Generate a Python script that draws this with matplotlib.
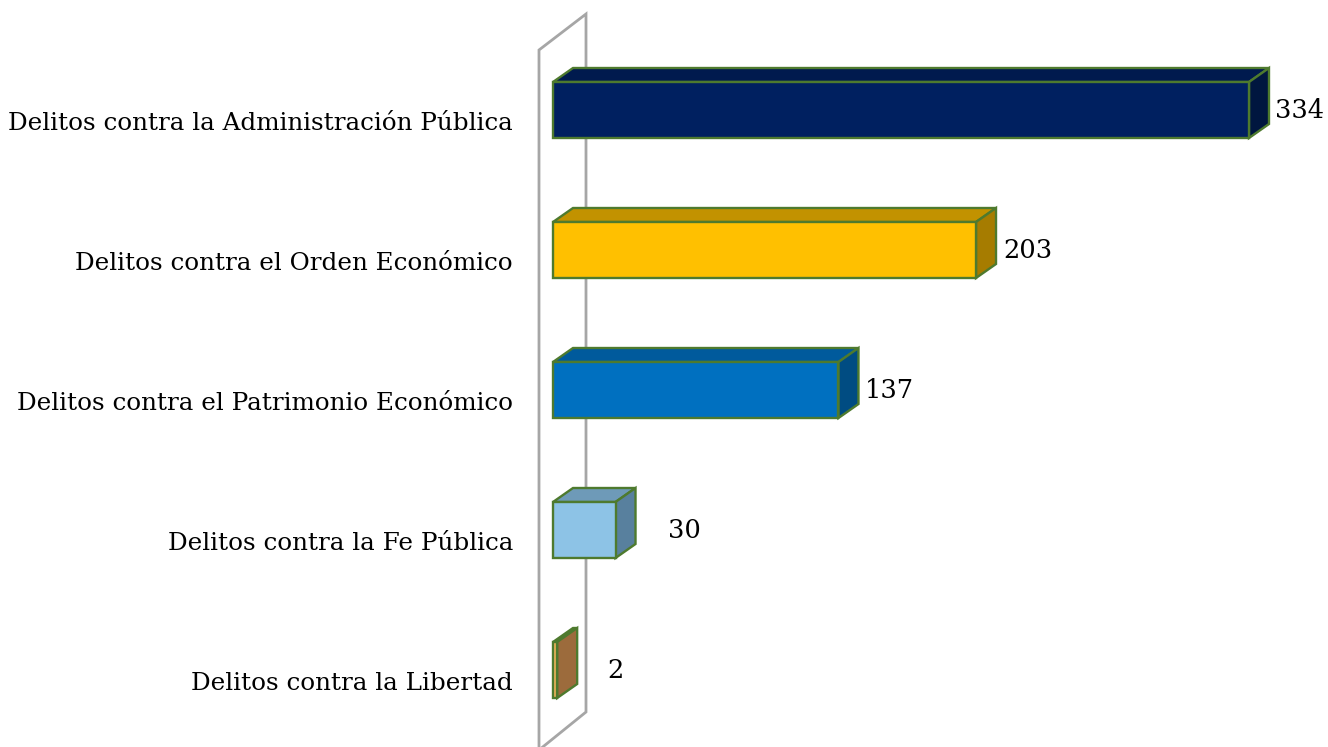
import matplotlib.pyplot as plt
from matplotlib.patches import Polygon

categorias = [
    "Delitos contra la Administración Pública",
    "Delitos contra el Orden Económico",
    "Delitos contra el Patrimonio Económico",
    "Delitos contra la Fe Pública",
    "Delitos contra la Libertad",
]
valores = [334, 203, 137, 30, 2]

# front, top, side colours for each bar
frentes = ["#002060", "#FFC000", "#0070C0", "#8DC3E6", "#F2B45C"]
techos = ["#001A4E", "#C29200", "#005A9C", "#6E9AB8", "#A07040"]
lados = ["#00163F", "#A67C00", "#004C82", "#58809E", "#9C6B3C"]
borde = "#4E7A2E"

# pixel geometry of the 3-D look (figure is 1328 x 747 px)
PX_X = 696 / 334           # px per value unit
PX_Y = 140                 # px per category step
x0_px, y0_px = 553, 110    # value 0 / first bar centre
ddx = 20 / PX_X            # bar depth in x
ddy = -14 / PX_Y           # bar depth in y
h = 56 / PX_Y              # bar thickness
label_gap_px = [6, 7, 6, 32, 30]

fig = plt.figure(figsize=(13.28, 7.47), dpi=100)
ax = fig.add_axes([0, 0, 1, 1])
ax.set_xlim(-x0_px / PX_X, (1328 - x0_px) / PX_X)
ax.set_ylim((747 - y0_px) / PX_Y, -y0_px / PX_Y)
ax.axis("off")

# back wall
wx1, wx2 = -14 / PX_X, 33 / PX_X
wall = Polygon([(wx1, -60 / PX_Y), (wx2, -96 / PX_Y), (wx2, 602 / PX_Y),
                (wx1, 640 / PX_Y)], closed=True, facecolor="white",
               edgecolor="#A6A6A6", linewidth=2, zorder=1)
ax.add_patch(wall)

for i, (cat, v) in enumerate(zip(categorias, valores)):
    top, bot = i - h / 2, i + h / 2
    ax.barh(i, v, height=h, left=0, color=frentes[i], edgecolor=borde,
            linewidth=1.7, zorder=3)
    ax.add_patch(Polygon([(0, top), (v, top), (v + ddx, top + ddy), (ddx, top + ddy)],
                         closed=True, facecolor=techos[i], edgecolor=borde,
                         linewidth=1.7, zorder=2))
    ax.add_patch(Polygon([(v, top), (v + ddx, top + ddy), (v + ddx, bot + ddy), (v, bot)],
                         closed=True, facecolor=lados[i], edgecolor=borde,
                         linewidth=1.7, zorder=2))
    ax.text(-40 / PX_X, i + 13 / PX_Y, cat, ha="right", va="center",
            family="DejaVu Serif", fontsize=17.7, color="black")
    ax.text(v + ddx + label_gap_px[i] / PX_X, i, str(v), ha="left", va="center",
            family="DejaVu Serif", fontsize=18.5, color="black")

fig.savefig("out.png", dpi=100)
